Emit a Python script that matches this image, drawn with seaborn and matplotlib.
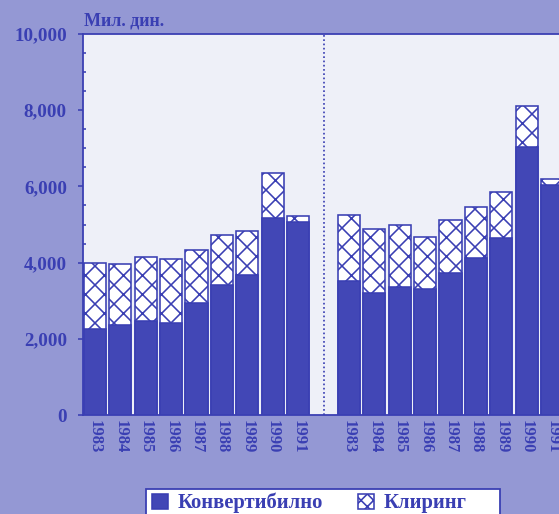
import numpy as np
import pandas as pd
import matplotlib.pyplot as plt
import seaborn as sns
from matplotlib.patches import Patch, Rectangle
from matplotlib.ticker import MultipleLocator, FuncFormatter

DPI = 114  # so 'xx' hatch spacing ~9.5 px


def pt(px):
    # pixeli -> pointi
    return px * 72 / DPI


sns.set_theme(style="white")
plt.rcParams['font.family'] = ['Liberation Serif', 'DejaVu Serif']
plt.rcParams['font.weight'] = 'bold'
plt.rcParams['hatch.linewidth'] = pt(1.6)

# Податоци (мил. дин.) - лев и десен блок
godini = ['1983', '1984', '1985', '1986', '1987', '1988', '1989', '1990', '1991']
lev_konvertibilno = [2260, 2360, 2470, 2420, 2950, 3410, 3680, 5160, 5070]
lev_kliring = [1720, 1600, 1690, 1680, 1380, 1320, 1150, 1180, 150]
desen_konvertibilno = [3520, 3190, 3370, 3320, 3740, 4130, 4640, 7040, 6040]
desen_kliring = [1730, 1690, 1620, 1340, 1380, 1320, 1200, 1080, 150]

plava = '#3a3fb3'
stolb = '#4247b6'
pozadina = '#9498d4'
pole = '#eef0f8'

# Tabela: lev blok na pozicii 0-8, desen na 10-18
df = pd.DataFrame({
    'poz': list(range(9)) + list(range(10, 19)),
    'godina': godini + godini,
    'konvertibilno': lev_konvertibilno + desen_konvertibilno,
    'kliring': lev_kliring + desen_kliring,
})
df['vkupno'] = df['konvertibilno'] + df['kliring']

fig = plt.figure(figsize=(559 / DPI, 514 / DPI), dpi=DPI)
fig.patch.set_facecolor(pozadina)
ax = fig.add_axes([83 / 559, 99 / 514, 1 - 83 / 559, 381 / 514])
ax.set_facecolor(pole)

# Vkupno (kliring so srafura), pa konvertibilno odozgora
sns.barplot(data=df, x='poz', y='vkupno', native_scale=True, width=0.87,
            color='white', saturation=1, edgecolor=plava, linewidth=pt(1.6),
            hatch='xx', ax=ax, zorder=2)
sns.barplot(data=df, x='poz', y='konvertibilno', native_scale=True, width=0.87,
            color=stolb, saturation=1, edgecolor=plava, linewidth=pt(1.6),
            ax=ax, zorder=3)

ax.axvline(9, color=plava, linestyle=(0, (1, 1.5)), linewidth=pt(1.7), zorder=1)

ax.set_xlim(-0.47, 18.27)
ax.set_ylim(0, 10000)
ax.set_xticks(df['poz'])
ax.set_xticklabels(df['godina'], rotation=270, fontsize=pt(16.5), color=plava,
                   fontweight='bold')
ax.tick_params(axis='x', length=0, pad=pt(5))

ax.yaxis.set_major_locator(MultipleLocator(2000))
ax.yaxis.set_minor_locator(MultipleLocator(500))
ax.yaxis.set_major_formatter(FuncFormatter(lambda v, p: f'{v:,.0f}'))
ax.tick_params(axis='y', which='major', direction='out', length=pt(5), width=pt(1.6),
               color=plava, labelsize=pt(19), labelcolor=plava, pad=pt(11), left=True)
ax.tick_params(axis='y', which='minor', direction='in', length=pt(3), width=pt(1.6),
               color=plava, left=True)
for lbl in ax.get_yticklabels():
    lbl.set_fontweight('bold')

for s in ['left', 'top', 'bottom']:
    ax.spines[s].set_visible(True)
    ax.spines[s].set_color(plava)
    ax.spines[s].set_linewidth(pt(1.8))
ax.spines['right'].set_visible(False)
ax.set_xlabel('')
ax.set_ylabel('')

fig.text(84 / 559, 1 - 21 / 514, 'Мил. дин.', fontsize=pt(18), color=plava,
         fontweight='bold', ha='left', va='center')

# Ramka na legendata (izleguva nadolu od slikata)
fig.patches.append(Rectangle((146 / 559, -0.05), 354 / 559, 0.05 + 25 / 514,
                             transform=fig.transFigure, facecolor='white',
                             edgecolor=plava, linewidth=pt(1.8), zorder=0))

rakovi = [Patch(facecolor=stolb, edgecolor=plava, label='Конвертибилно'),
          Patch(facecolor='white', edgecolor=plava, hatch='xxx', label='Клиринг')]
leg = fig.legend(handles=rakovi, loc='center left', bbox_to_anchor=(148 / 559, 1 - 503 / 514),
                 ncol=2, frameon=False, fontsize=pt(20.6),
                 handlelength=0.75, handleheight=0.75, handletextpad=0.5,
                 columnspacing=1.7, borderpad=0.2, borderaxespad=0)
for t in leg.get_texts():
    t.set_color(plava)
    t.set_fontweight('bold')

fig.savefig('out.png', dpi=DPI, facecolor=pozadina)
